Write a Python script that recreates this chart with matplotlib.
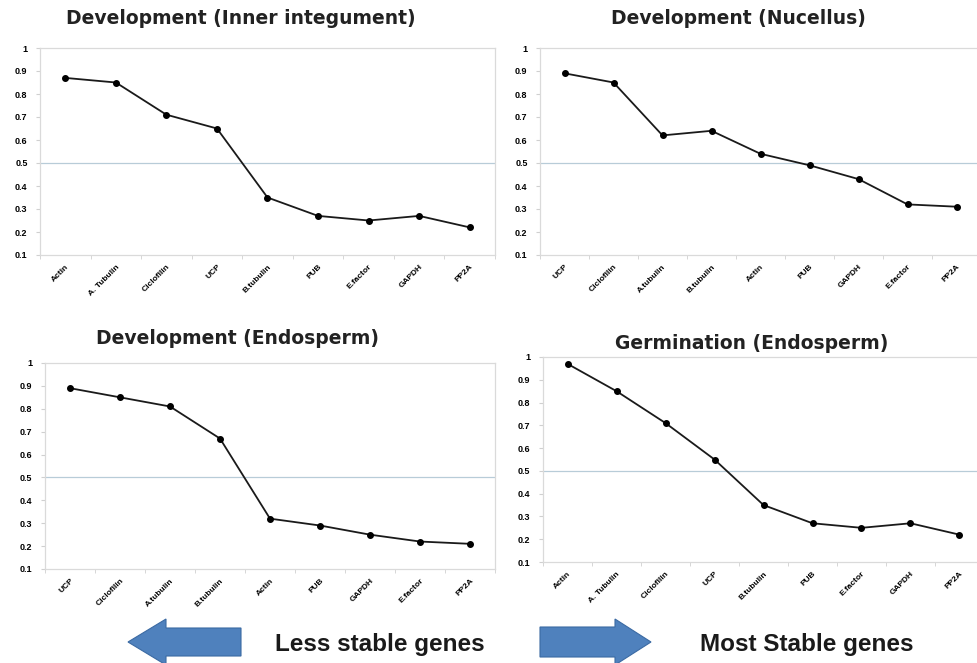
import matplotlib
matplotlib.use("Agg")
import matplotlib.pyplot as plt
from matplotlib.patches import FancyArrow

plt.rcParams['font.family'] = ['Liberation Sans', 'DejaVu Sans']

genes_a = ["Actin", "A. Tubulin", "Ciclofilin", "UCP", "B.tubulin", "PUB", "E.factor", "GAPDH", "PP2A"]
genes_b = ["UCP", "Ciclofilin", "A.tubulin", "B.tubulin", "Actin", "PUB", "GAPDH", "E.factor", "PP2A"]

inner_integument = [0.87, 0.85, 0.71, 0.65, 0.35, 0.27, 0.25, 0.27, 0.22]
nucellus = [0.89, 0.85, 0.62, 0.64, 0.54, 0.49, 0.43, 0.32, 0.31]
endosperm_dev = [0.89, 0.85, 0.81, 0.67, 0.32, 0.29, 0.25, 0.22, 0.21]
endosperm_germ = [0.97, 0.85, 0.71, 0.55, 0.35, 0.27, 0.25, 0.27, 0.22]

yticks = [0.1, 0.2, 0.3, 0.4, 0.5, 0.6, 0.7, 0.8, 0.9, 1.0]
ytick_labels = ["0.1", "0.2", "0.3", "0.4", "0.5", "0.6", "0.7", "0.8", "0.9", "1"]

W, H = 977, 663
fig = plt.figure(figsize=(9.77, 6.63), dpi=100)


def panel(left, right, top, bottom, genes, values, title, title_x, title_y):
    ax = fig.add_axes([left / W, 1 - bottom / H, (right - left) / W, (bottom - top) / H])
    x = list(range(len(genes)))
    ax.plot(x, values, color='#1a1a1a', linewidth=1.3, marker='o', markersize=4,
            markerfacecolor='black', markeredgecolor='black')
    ax.axhline(0.5, color='#b8ccd8', linewidth=0.9, zorder=0)
    ax.set_xlim(-0.5, len(genes) - 0.5)
    ax.set_ylim(0.1, 1.0)
    ax.set_yticks(yticks)
    ax.set_yticklabels(ytick_labels, fontsize=6.5, fontweight='bold')
    ax.set_xticks(x)
    ax.set_xticklabels(genes, rotation=45, ha='right', rotation_mode='anchor',
                       fontsize=6, fontweight='bold')
    ax.tick_params(axis='x', length=0, pad=6)
    ax.set_xticks([i - 0.5 for i in range(len(genes) + 1)], minor=True)
    ax.tick_params(axis='x', which='minor', length=3, color='#d0d0d0')
    ax.tick_params(axis='y', length=3, color='#d0d0d0', pad=6)
    for s in ax.spines.values():
        s.set_color('#dadada')
        s.set_linewidth(0.9)
    fig.text(title_x / W, 1 - title_y / H, title, fontsize=13.5, fontweight='bold',
             ha='center', va='center', color='#222222', family='DejaVu Sans')
    return ax


panel(40, 495, 48, 255, genes_a, inner_integument, "Development (Inner integument)", 241, 18)
panel(540, 981, 48, 255, genes_b, nucellus, "Development (Nucellus)", 738, 18)
panel(45, 495, 363, 569, genes_b, endosperm_dev, "Development (Endosperm)", 238, 338)
panel(543, 984, 357, 562, genes_a, endosperm_germ, "Germination (Endosperm)", 752, 343)

# bottom arrows and captions
ov = fig.add_axes([0, 0, 1, 1])
ov.set_xlim(0, W)
ov.set_ylim(H, 0)
ov.axis('off')
ov.patch.set_alpha(0)
ov.add_patch(FancyArrow(241, 642, -75, 0, width=28, head_width=46, head_length=38,
                        length_includes_head=False, color='#4f81bd', ec='#3b6aa3', lw=0.8))
ov.add_patch(FancyArrow(540, 642, 75, 0, width=30, head_width=46, head_length=36,
                        length_includes_head=False, color='#4f81bd', ec='#3b6aa3', lw=0.8))
ov.text(275, 645, "Less stable genes", fontsize=17.5, fontweight='bold', ha='left', va='center',
        color='#1a1a1a')
ov.text(700, 644, "Most Stable genes", fontsize=17.5, fontweight='bold', ha='left', va='center',
        color='#1a1a1a')

fig.savefig("out.png", dpi=100)
